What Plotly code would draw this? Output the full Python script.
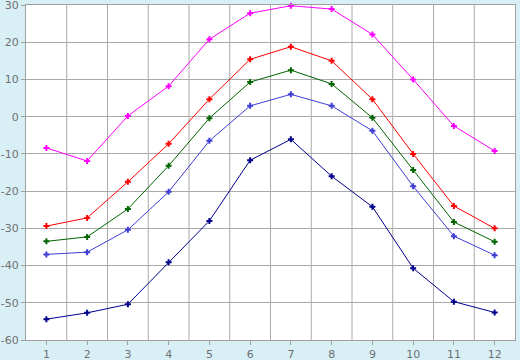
import plotly.graph_objects as go

months = [1, 2, 3, 4, 5, 6, 7, 8, 9, 10, 11, 12]
y_ticks = [-60, -50, -40, -30, -20, -10, 0, 10, 20, 30]
y_tick_labels = ["-60", "-50", "-40", "-30", "-20", "-10", "0", "10", "20", "30"]
magenta_vals = [-8.4, -11.9, 0.2, 8.2, 20.8, 27.8, 29.8, 28.9, 22.1, 10.0, -2.5, -9.2]
red_vals = [-29.4, -27.2, -17.5, -7.3, 4.7, 15.4, 18.8, 15.0, 4.7, -10.0, -24.0, -30.0]
green_vals = [-33.5, -32.3, -24.8, -13.2, -0.4, 9.3, 12.5, 8.8, -0.3, -14.3, -28.3, -33.6]
blue_vals = [-37.0, -36.4, -30.4, -20.2, -6.5, 2.9, 6.0, 2.9, -3.8, -18.7, -32.1, -37.2]
navy_vals = [-54.4, -52.7, -50.4, -39.1, -28.0, -11.7, -6.1, -16.0, -24.2, -40.7, -49.7, -52.6]

series = [
    (magenta_vals, "#ff00ff"),
    (red_vals, "#ff0000"),
    (green_vals, "#006400"),
    (blue_vals, "#3d3dd6"),
    (navy_vals, "#00008b"),
]

fig = go.Figure()
for vals, color in series:
    fig.add_trace(go.Scatter(
        x=months, y=vals, mode="lines+markers",
        line=dict(color=color, width=1),
        marker=dict(symbol="cross", size=5, color=color, line=dict(width=0)),
        showlegend=False, cliponaxis=False,
    ))

fig.update_layout(
    width=520, height=360,
    margin=dict(l=26, r=5, t=5, b=20, autoexpand=False),
    paper_bgcolor="#d9eff6",
    plot_bgcolor="#ffffff",
    font=dict(family="DejaVu Sans", size=11, color="#707070"),
)
fig.update_xaxes(
    range=[0.5, 12.5], tickmode="array", tickvals=months,
    ticktext=[str(m) for m in months], automargin=False,
    ticklabeloverflow="allow",
    showgrid=False, ticks="outside", ticklen=4, tickcolor="#a0a0a0",
    showline=True, linecolor="#a0a0a0", mirror=True, zeroline=False,
)
fig.update_yaxes(
    range=[-60, 30], tickmode="array", tickvals=y_ticks, ticktext=y_tick_labels,
    showgrid=True, gridcolor="#aaaaaa", gridwidth=1,
    automargin=False, ticklabeloverflow="allow",
    ticks="outside", ticklen=4, tickcolor="#a0a0a0",
    showline=True, linecolor="#a0a0a0", mirror=True, zeroline=False,
)
# vertical grid lines between categories
for k in range(1, 12):
    fig.add_vline(x=k + 0.5, line=dict(color="#aaaaaa", width=1), layer="below")

fig.write_html(
    "out.html",
    config={"displayModeBar": False},
    post_script="document.body.style.margin='0';document.body.style.padding='0';document.body.style.background='#d9eff6';",
)
